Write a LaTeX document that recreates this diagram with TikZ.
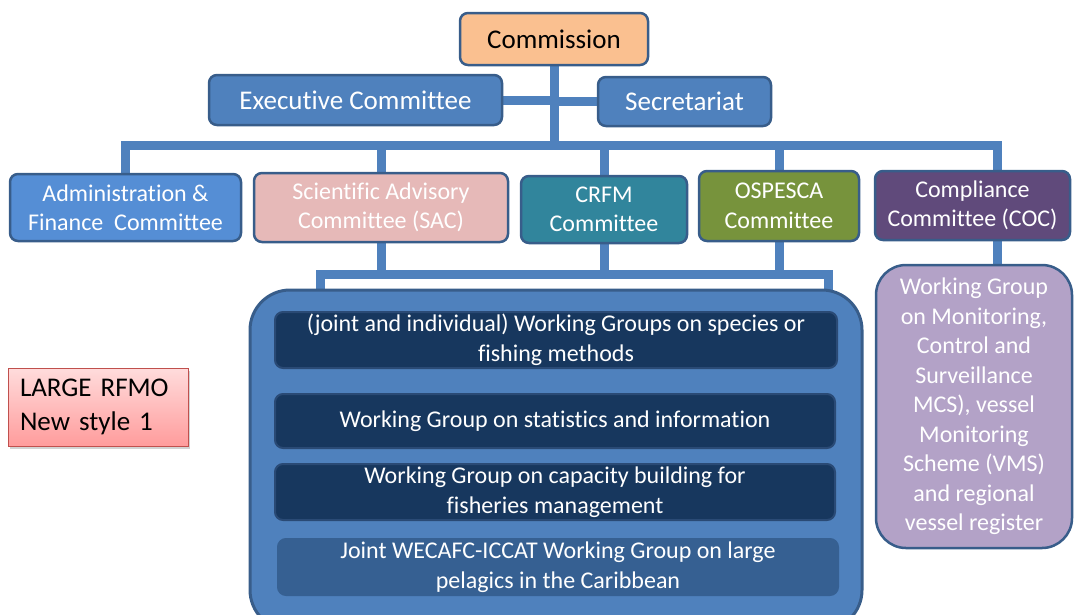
\documentclass[tikz,border=0pt]{standalone}
\usepackage{fontspec}
\setmainfont{Carlito}[Ligatures={NoCommon}]
\usetikzlibrary{shadows}
\pgfdeclarelayer{back}
\pgfsetlayers{back,main}
\definecolor{cblue}{HTML}{4F81BD}
\definecolor{bdr}{HTML}{385D8A}
\definecolor{comfill}{HTML}{FAC090}
\definecolor{admfill}{HTML}{558ED5}
\definecolor{sacfill}{HTML}{E6B9B8}
\definecolor{crfmfill}{HTML}{31859C}
\definecolor{ospfill}{HTML}{77933C}
\definecolor{cocfill}{HTML}{604A7B}
\definecolor{navy}{HTML}{17375E}
\definecolor{navyb}{HTML}{2A4A75}
\definecolor{midnavy}{HTML}{366092}
\definecolor{wgfill}{HTML}{B3A2C7}
\definecolor{rfmotop}{HTML}{FFDCDC}
\definecolor{rfmobot}{HTML}{FF9C9C}
\definecolor{rfmob}{HTML}{C0504D}
\tikzset{
  conn/.style={draw=cblue, line width=9pt},
  box/.style={draw=bdr, line width=2.5pt, rounded corners=8pt, align=center,
    text=white, inner sep=0pt, font=\fontsize{24}{29.5}\selectfont},
  topbox/.style={box, font=\fontsize{27}{32}\selectfont},
  inbox/.style={box, fill=navy, draw=navyb, line width=2pt},
}
\begin{document}
\begin{tikzpicture}[x=1pt,y=-1pt]
\useasboundingbox (0,0) rectangle (1075,614);
\clip (0,0) rectangle (1075,614);
\coordinate (bigL) at (320,300);
\coordinate (bigR) at (828,300);
\coordinate (cocx) at (997,0);
% top level nodes
\node[topbox, fill=comfill, text=black, minimum width=188pt, minimum height=52pt] (comm) at (554,39) {Commission};
\node[topbox, fill=cblue, minimum width=293pt, minimum height=50pt] (exec) at (355.5,100) {Executive Committee};
\node[topbox, fill=cblue, minimum width=173pt, minimum height=49pt] (sec) at (684.5,101.5) {Secretariat};
% committees
\node[box, fill=admfill, minimum width=231pt, minimum height=67pt] (adm) at (125.5,207.5) {Administration \&\\Finance\ \ Committee};
\node[box, fill=sacfill, minimum width=254pt, minimum height=69pt] (sac) at (381,207.5) {Scientific Advisory\\Committee (SAC)};
\node[box, fill=crfmfill, minimum width=166pt, minimum height=67pt] (crfm) at (604,209.5) {CRFM\\Committee};
\node[box, fill=ospfill, minimum width=160pt, minimum height=70pt] (osp) at (779,206) {OSPESCA\\Committee};
\node[box, fill=cocfill, minimum width=195pt, minimum height=69pt] (coc) at (972.5,205.5) {Compliance\\Committee (COC)};
% big container
\node[draw=bdr, line width=3pt, fill=cblue, rounded corners=40pt, minimum width=612pt, minimum height=340pt, inner sep=0pt] (big) at (556,460) {};
\node[inbox, minimum width=562pt, minimum height=56pt] (wg1) at (556,340) {(joint and individual) Working Groups on species or\\fishing methods};
\node[inbox, minimum width=560pt, minimum height=54pt] (wg2) at (555,421) {Working Group on statistics and information};
\node[inbox, minimum width=560pt, minimum height=56pt] (wg3) at (555,492) {Working Group on capacity building for\\fisheries management};
\node[inbox, fill=midnavy, draw=midnavy, minimum width=560pt, minimum height=56pt] (wg4) at (558,567) {Joint WECAFC-ICCAT Working Group on large\\pelagics in the Caribbean};
% COC working group
\node[box, fill=wgfill, rounded corners=30pt, minimum width=196pt, minimum height=283pt] (wgc) at (974,406.5) {Working Group\\on Monitoring,\\Control and\\Surveillance\\MCS), vessel\\Monitoring\\Scheme (VMS)\\and regional\\vessel register};
% label
\node[draw=rfmob, line width=1pt, top color=rfmotop, bottom color=rfmobot, drop shadow={shadow xshift=2pt, shadow yshift=-3pt, opacity=0.35},
  minimum width=180pt, minimum height=78pt, text width=156pt, align=left, inner sep=0pt, text=black,
  font=\fontsize{27}{34}\selectfont] (rfmo) at (98,407) {LARGE RFMO\\New style 1};
% connectors (behind boxes)
\begin{pgfonlayer}{back}
\draw[conn] (comm.south) -- (comm.south |- 0,145);
\draw[conn] (exec.east) -- (exec.east -| comm.south);
\draw[conn] (sec.west) -- (sec.west -| comm.south);
\draw[conn] (adm.north) -- (adm.north |- 0,145) -- (cocx |- 0,145) -- (coc.north -| cocx);
\draw[conn] (sac.north) -- (sac.north |- 0,145);
\draw[conn] (crfm.north) -- (crfm.north |- 0,145);
\draw[conn] (osp.north) -- (osp.north |- 0,145);
\draw[conn] (sac.south) -- (sac.south |- 0,274);
\draw[conn] (crfm.south) -- (crfm.south |- 0,274);
\draw[conn] (osp.south) -- (osp.south |- 0,274);
\draw[conn] (bigL) -- ++(0,-26) -| (bigR);
\draw[conn] (coc.south -| cocx) -- (wgc.north -| cocx);
\end{pgfonlayer}
\end{tikzpicture}
\end{document}
